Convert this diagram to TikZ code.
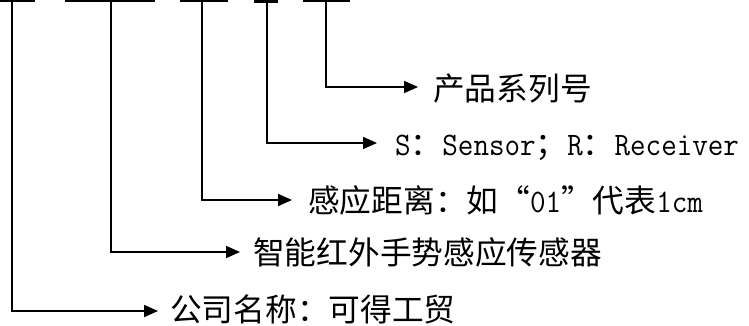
\documentclass[tikz,border=0pt]{standalone}
\usepackage{fontspec}
\setmainfont{Noto Sans CJK SC}
\newfontfamily\latmono{Latin Modern Mono}[FakeStretch=0.92]
\usetikzlibrary{arrows.meta}
\newcommand{\Lt}[1]{{\latmono\fontsize{32.8}{36}\selectfont #1}}
\newcommand{\oq}{\makebox[1em][r]{“}}
\newcommand{\cq}{\makebox[1em][l]{”}}
\tikzset{
  lead/.style={line width=1.6pt, -{Triangle[length=14pt,width=12pt]}},
  topbar/.style={fill=black},
  lbl/.style={anchor=base west, inner sep=0pt, font=\fontsize{31.7}{36}\selectfont}
}
\begin{document}
\begin{tikzpicture}[x=1pt,y=-1pt]
\useasboundingbox (0,0) rectangle (749,325);
% cut-off bars at the top edge
\fill[topbar] (0,0) rectangle (35,1.8);
\fill[topbar] (65,0) rectangle (155,1.8);
\fill[topbar] (180,0) rectangle (228,1.8);
\fill[topbar] (254,0) rectangle (278,2.8);
\fill[topbar] (303,0) rectangle (350,1.8);
% top points
\coordinate (t1) at (12,0);
\coordinate (t2) at (111,0);
\coordinate (t3) at (202,0);
\coordinate (t4) at (267,0);
\coordinate (t5) at (326,0);
% arrow tips
\coordinate (e1) at (158,311);
\coordinate (e2) at (240,252);
\coordinate (e3) at (292,200);
\coordinate (e4) at (377,143);
\coordinate (e5) at (418,87);
% labels
\node[lbl] (l1) at (170,321) {公司名称：可得工贸};
\node[lbl] (l2) at (253,264) {智能红外手势感应传感器};
\node[lbl] (l3) at (308,212) {感应距离：如\oq\Lt{01}\cq 代表\Lt{1cm}};
\node[lbl] (l4) at (395,155) {\Lt{S}：\Lt{Sensor}；\Lt{R}：\Lt{Receiver}};
\node[lbl] (l5) at (433,100) {产品系列号};
% connectors
\draw[lead] (t1) |- (e1);
\draw[lead] (t2) |- (e2);
\draw[lead] (t3) |- (e3);
\draw[lead] (t4) |- (e4);
\draw[lead] (t5) |- (e5);
\end{tikzpicture}
\end{document}
